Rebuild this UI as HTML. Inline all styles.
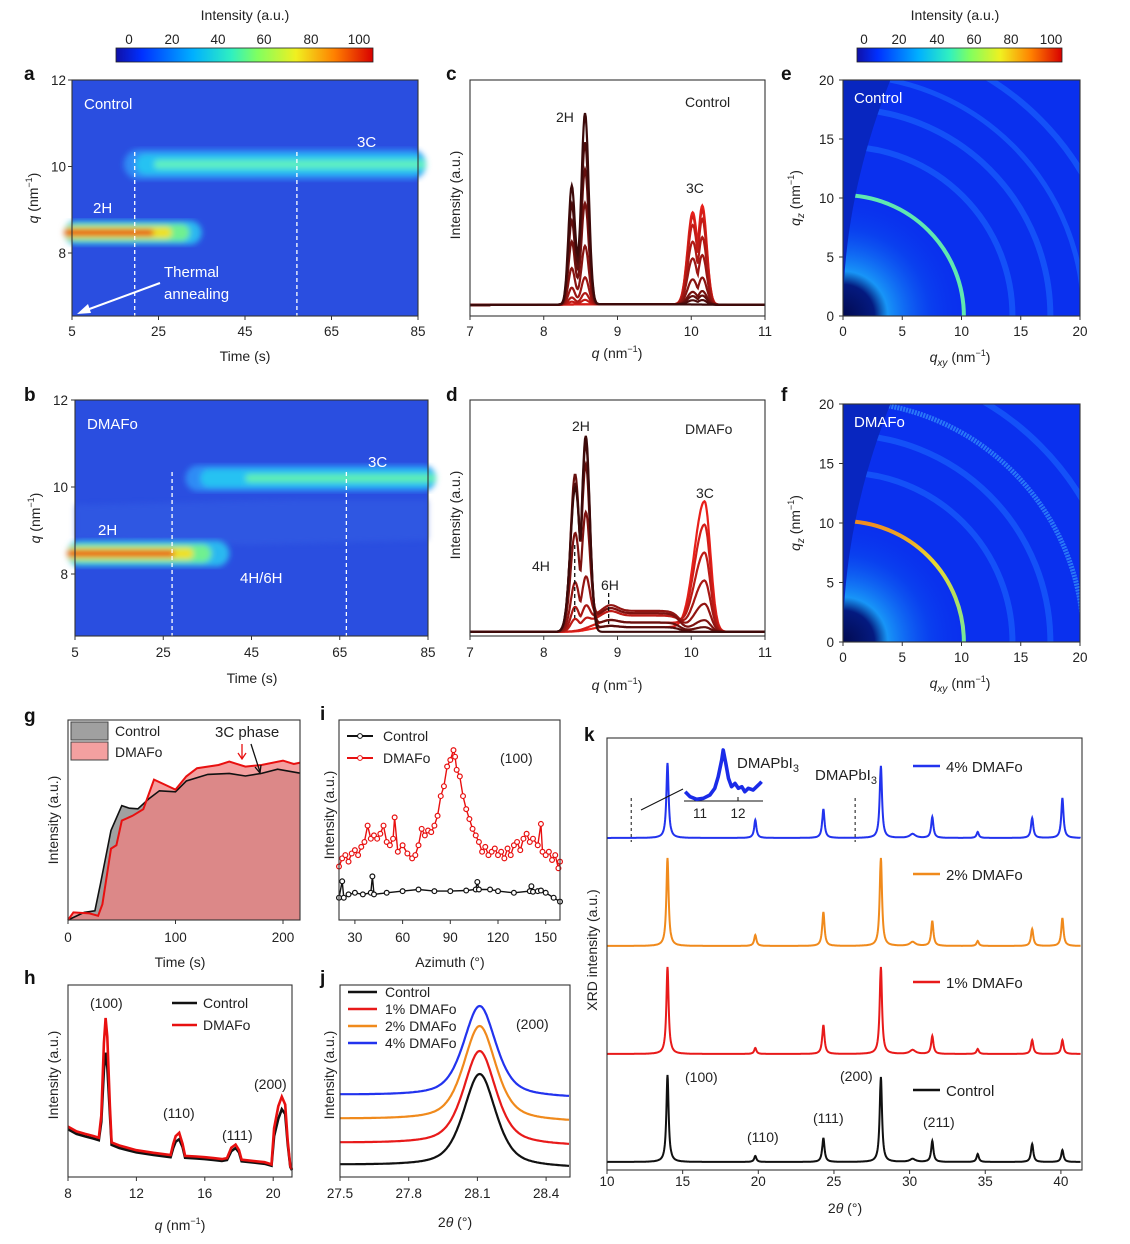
<!DOCTYPE html>
<html><head><meta charset="utf-8"><style>
html,body{margin:0;padding:0;background:#fff;}
svg{display:block;font-family:"Liberation Sans",sans-serif;}
.t{font-size:14px;fill:#222;}
.tk{font-size:13.5px;fill:#222;}
.L{font-size:19px;font-weight:bold;fill:#111;}
</style></head><body>
<svg id="fig" width="1130" height="1244" viewBox="0 0 1130 1244" xmlns="http://www.w3.org/2000/svg">
<defs>
<linearGradient id="jet" x1="0" x2="1" y1="0" y2="0">
<stop offset="0" stop-color="#1010a8"/><stop offset="0.1" stop-color="#0030ff"/><stop offset="0.3" stop-color="#00b0ff"/><stop offset="0.45" stop-color="#30f0c0"/><stop offset="0.55" stop-color="#80ff60"/><stop offset="0.7" stop-color="#f0f020"/><stop offset="0.85" stop-color="#ff8000"/><stop offset="1" stop-color="#d80000"/>
</linearGradient>
<filter id="blur3"><feGaussianBlur stdDeviation="3"/></filter>
<filter id="blur2"><feGaussianBlur stdDeviation="1.6"/></filter>
<radialGradient id="glowE" cx="0.5" cy="0.5" r="0.5"><stop offset="0" stop-color="#18c8f8"/><stop offset="0.35" stop-color="#1898f8"/><stop offset="0.7" stop-color="#0a50f0" stop-opacity="0.5"/><stop offset="1" stop-color="#0a2ff0" stop-opacity="0"/></radialGradient>
<radialGradient id="darkC" cx="0.5" cy="0.5" r="0.5"><stop offset="0" stop-color="#020a50"/><stop offset="0.7" stop-color="#041a80"/><stop offset="1" stop-color="#041a80" stop-opacity="0"/></radialGradient>
<linearGradient id="ringF" x1="0" x2="0" y1="0" y2="1"><stop offset="0" stop-color="#f08a20"/><stop offset="0.35" stop-color="#e8d830"/><stop offset="1" stop-color="#70e8a0"/></linearGradient>
<clipPath id="clipE"><rect x="843" y="80" width="237" height="236"/></clipPath>
<clipPath id="clipF"><rect x="843" y="404" width="237" height="238"/></clipPath>
</defs>

<text class="t" x="245" y="20" text-anchor="middle">Intensity (a.u.)</text>
<rect x="116" y="48" width="257" height="14" fill="url(#jet)" stroke="#222" stroke-width="0.8"/>
<g class="tk" text-anchor="middle">
<text x="129" y="44">0</text><text x="172" y="44">20</text><text x="218" y="44">40</text><text x="264" y="44">60</text><text x="311" y="44">80</text><text x="359" y="44">100</text></g>
<text class="t" x="955" y="20" text-anchor="middle">Intensity (a.u.)</text>
<rect x="857" y="48" width="205" height="14" fill="url(#jet)" stroke="#222" stroke-width="0.8"/>
<g class="tk" text-anchor="middle">
<text x="864" y="44">0</text><text x="899" y="44">20</text><text x="937" y="44">40</text><text x="974" y="44">60</text><text x="1011" y="44">80</text><text x="1051" y="44">100</text></g>

<g class="L">
<text x="24" y="80">a</text><text x="446" y="80">c</text><text x="781" y="80">e</text>
<text x="24" y="401">b</text><text x="446" y="401">d</text><text x="781" y="401">f</text>
<text x="24" y="722">g</text><text x="320" y="720">i</text><text x="584" y="741">k</text>
<text x="24" y="984">h</text><text x="320" y="984">j</text></g>

<g id="A"></g>
<g id="B"></g>
<g id="C"></g>
<g id="D"></g>
<g id="E"></g>
<g id="F"></g>
<g id="G"></g>
<g id="I"></g>
<g id="H"></g>
<g id="J"></g>
<g id="K"></g>
</svg>
<script>
// ---------- data ----------
const aTicksX=[5,25,45,65,85];
const aTicksY=[8,10,12];
const cTicksX=[7,8,9,10,11];
const eTicks=[0,5,10,15,20];
const c2H=[85,72,60,45,26,12,5,2,0,0];
const c3C=[0,2,4,6,12,22,30,38,42,44];
const d2H=[84,80,70,48,20,8,3,0,0];
const d4H=[10,14,24,12,8,5,3,0,0];
const dPlat=[0,2,4,8,9,8,7,4,2];
const d3C=[0,0,2,5,12,22,34,46,56];
const gTicks=[0,100,200];
const gCtrlT=[0,15,25,30,40,50,57,65,75,85,100,110,130,150,165,180,195,216];
const gCtrlV=[0,3.8,4.6,17.7,44.8,57.2,55.9,55.6,60.5,64.6,64.1,69.5,72.8,73.3,72,73.3,75.4,73.4];
const gDmT=[0,5,20,28,32,40,45,50,60,70,80,90,100,110,120,140,150,165,180,200,210,216];
const gDmV=[0,3.8,3.3,2.1,7.9,35.7,37.4,49.7,52.1,55.4,70.2,67.7,65.2,71.8,75.9,77.5,79.2,76.7,77.5,79.7,78,78.7];
const iTicks=[30,60,90,120,150];
const iRedA=[20,22,24,26,28,30,32,34,36,38,40,42,44,46,48,50,52,54,55,57,60,63,66,68,70,72,74,76,78,80,82,84,86,88,90,92,93,94,96,98,100,102,104,106,108,110,112,114,116,118,120,122,124,126,128,130,132,134,136,138,140,142,145,147,148,150,152,154,156,158,159];
const iRedV=[163,188,198,178,203,213,198,223,238,288,248,258,248,263,288,238,228,248,313,208,228,203,188,198,228,278,258,273,268,288,318,378,408,468,488,518,498,458,438,378,338,308,278,258,238,208,223,198,208,218,198,208,188,218,198,228,238,213,248,263,238,248,228,293,208,198,208,183,198,158,178];
const iBlkA=[20,22,23,26,30,35,40,41,42,50,60,70,80,90,100,106,107,108,115,120,130,140,141,142,145,147,150,155,159];
const iBlkV=[68,118,68,78,83,78,83,133,78,83,88,93,88,88,90,93,116,93,93,88,83,88,103,86,88,90,83,68,56];
const hTicks=[8,12,16,20];
const hQ=[8,8.5,9,9.5,9.8,9.95,10.1,10.2,10.3,10.45,10.55,11,12,13,14,14.15,14.3,14.5,14.7,14.85,15.5,16,16.5,17,17.3,17.55,17.8,18,18.15,19,19.5,19.9,20.05,20.3,20.5,20.7,20.85,21,21.1];
const hRed=[160,145,137,130,125,195,425,505,445,225,110,100,85,77,70,105,130,140,105,67,65,63,60,57,60,93,103,85,55,50,47,40,155,225,255,230,115,35,25];
const hBlk=[152,137,129,122,117,175,340,395,350,200,102,92,78,70,63,92,112,120,95,61,59,57,54,51,54,82,92,78,50,45,42,36,130,185,215,200,105,32,22];
const jTicks=[27.5,27.8,28.1,28.4];
const jNames=['Control','1% DMAFo','2% DMAFo','4% DMAFo'];
const jBase=[10,32,56,80];
const jHeight=[93,94,95,91];
const kTicks=[10,15,20,25,30,35,40];
const kPos=[14.0,19.8,24.3,28.1,30.2,31.5,34.5,38.1,40.1];
const kCtrl=[87,6,24,85,3,21,8,18,12];
const k1=[87,6,29,87,4,18,5,14,14];
const k2=[88,11,34,88,4,25,5,17,28];
const k4=[75,18,29,72,4,21,6,20,40];
const kOffset=[8,116,224,332];
const insetT=[10.61,10.74,10.91,11.09,11.26,11.39,11.48,11.57,11.61,11.68,11.75,11.83,11.92,12.01,12.10,12.18,12.27,12.40,12.49,12.58,12.62];
const insetV=[25,10,2,5,15,35,70,120,150,110,65,40,50,35,40,25,35,30,40,50,55];

// ---------- helpers ----------
const NS='http://www.w3.org/2000/svg';
function mk(tag,attrs,parent){const e=document.createElementNS(NS,tag);for(const k in attrs)e.setAttribute(k,attrs[k]);parent.appendChild(e);return e;}
function txt(parent,x,y,s,cls,anchor){const e=mk('text',{x:x,y:y,class:cls||'t','text-anchor':anchor||'start'},parent);e.textContent=s;return e;}
function pathD(xs,ys){return xs.map((x,i)=>(i?'L':'M')+x.toFixed(1)+','+ys[i].toFixed(1)).join('');}
function gs(x,m,s){return Math.exp(-0.5*((x-m)/s)*((x-m)/s));}
function lor(x,m,g){return 1/(1+((x-m)/g)*((x-m)/g));}
function range(a,b,st){const r=[];for(let v=a;v<=b+1e-9;v+=st)r.push(v);return r;}

function axes(g,x0,y0,x1,y1,xs,xt,ys,yt,xlabY,ylabX){
  const fr=mk('rect',{x:x0,y:y0,width:x1-x0,height:y1-y0,fill:'none',stroke:'#333','stroke-width':1.1},g);
  
  
  xt.forEach(v=>{
    const X=xs(v);
    const tl=mk('line',{x1:X,x2:X,y1:y1,y2:y1+4,stroke:'#333'},g);
    
    
    const tt=txt(g,X,xlabY,String(v),'tk','middle');
    
    
  });
  (yt||[]).forEach(v=>{
    const Y=ys(v);
    const tl=mk('line',{x1:x0-4,x2:x0,y1:Y,y2:Y,stroke:'#333'},g);
    
    
    const tt=txt(g,ylabX,Y+5,String(v),'tk','end');
    
    
  });
}
function qTitle(g,x,y,sub,rot){
  const e=mk('text',{x:x,y:y,class:'t','text-anchor':'middle'},g);
  if(rot)e.setAttribute('transform','rotate(-90 '+x+' '+y+')');
  e.innerHTML='<tspan font-style="italic">q</tspan>'+(sub?'<tspan font-style="italic" font-size="10" dy="4">'+sub+'</tspan><tspan dy="-4"> </tspan>':' ')+'(nm<tspan font-size="9" dy="-6">−1</tspan><tspan dy="6">)</tspan>';
  
  
  return e;
}
function yTitle(g,x,y,s){
  const e=txt(g,x,y,s,'t','middle');
  e.setAttribute('transform','rotate(-90 '+x+' '+y+')');
  
  
  return e;
}
function band(g,cx0,cx1,cy,layers){
  const grp=mk('g',{filter:'url(#blur3)'},g);
  
  
  layers.forEach(L=>{
    const r=mk('rect',{x:cx0+L[0],y:cy-L[2]/2,width:(cx1-cx0)-L[0]-L[1],height:L[2],rx:L[2]/2,fill:L[3]},grp);
    
    
  });
}
function wline(g,x,y0,y1){
  const l=mk('line',{x1:x,x2:x,y1:y0,y2:y1,stroke:'#fff','stroke-width':1.3,'stroke-dasharray':'4,3'},g);
  
  
}
function wtext(g,x,y,s){const e=txt(g,x,y,s,'t');e.setAttribute('fill','#fff');e.style.fill='#fff';e.style.fontSize='15px';
  
  return e;}

// ---------- panel a ----------
(function(){
  const g=document.getElementById('A');
  const xs=t=>72+(t-5)*346/80, ys=q=>80+(12-q)*43.25;
  const bg=mk('rect',{x:72,y:80,width:346,height:236,fill:'#2a4ee0'},g);
  
  
  band(g,xs(17),xs(85)+8,ys(10.05),[[0,0,30,'#2f8cf5'],[12,0,20,'#25c2f2'],[30,0,9,'#5ff0c0']]);
  band(g,xs(5)-8,xs(35),ys(8.47),[[0,0,24,'#2ab8f0'],[0,12,17,'#70f090'],[0,30,11,'#f0e020'],[0,48,6,'#e81a0c']]);
  wline(g,xs(19.5),152,316);wline(g,xs(57),152,316);
  wtext(g,84,109,'Control');wtext(g,357,147,'3C');wtext(g,93,213,'2H');
  wtext(g,164,277,'Thermal');wtext(g,164,299,'annealing');
  const ar=mk('path',{d:'M160,283 L84,311',stroke:'#fff','stroke-width':2,fill:'none'},g);
  
  
  const ah=mk('path',{d:'M77,314 L88,304 L91,313 Z',fill:'#fff'},g);
  
  
  axes(g,72,80,418,316,xs,aTicksX,ys,aTicksY,336,66);
  const xt=txt(g,245,361,'Time (s)','t','middle');
  
  
  qTitle(g,38,198,'',true);
})();

// ---------- panel b ----------
(function(){
  const g=document.getElementById('B');
  const xs=t=>75+(t-5)*353/80, ys=q=>400+(12-q)*43.5;
  const bg=mk('rect',{x:75,y:400,width:353,height:236,fill:'#2a4ee0'},g);
  
  
  const lt=mk('path',{d:'M75,505 L300,500 L428,500 L428,540 L250,545 L75,540 Z',fill:'#3560e4',opacity:0.5,filter:'url(#blur3)'},g);
  
  
  band(g,xs(30),xs(85)+8,ys(10.2),[[0,0,26,'#2f8cf5'],[15,0,18,'#25c2f2'],[60,0,8,'#60f0b0']]);
  band(g,xs(5)-8,xs(40),ys(8.47),[[0,0,26,'#2ab8f0'],[0,18,18,'#70f090'],[0,36,11,'#f0e020'],[0,55,6,'#e81a0c']]);
  wline(g,xs(27),472,636);wline(g,xs(66.5),472,636);
  wtext(g,87,429,'DMAFo');wtext(g,368,467,'3C');wtext(g,98,535,'2H');wtext(g,240,583,'4H/6H');
  axes(g,75,400,428,636,xs,aTicksX,ys,aTicksY,657,68);
  const xt=txt(g,252,683,'Time (s)','t','middle');
  
  
  qTitle(g,40,518,'',true);
})();

function curveColor(i,n){const f=i/(n-1);const r=Math.round(60+f*172),gg=Math.round(10+f*22),b=Math.round(10+f*16);return 'rgb('+r+','+gg+','+b+')';}

// ---------- panel c ----------
(function(){
  const g=document.getElementById('C');
  const xs=q=>470+(q-7)*73.75, ys=v=>305-v*2.25;
  const qs=range(7,11,0.01);
  const n=c2H.length;
  for(let i=n-1;i>=0;i--){
    const vals=qs.map(q=>c2H[i]*(0.62*gs(q,8.38,0.045)+gs(q,8.56,0.05))+c3C[i]*Math.max(0.93*gs(q,10.02,0.07),gs(q,10.15,0.06))+0.4*gs(q,9.2,0.8));
    const p=mk('path',{d:pathD(qs.map(xs),vals.map(ys)),fill:'none',stroke:curveColor(i,n),'stroke-width':2.2},g);
    
    
  }
  axes(g,470,80,765,316,xs,cTicksX,null,null,336,0);
  [[556,122,'2H'],[686,193,'3C'],[685,107,'Control']].forEach(L=>{
    const e=txt(g,L[0],L[1],L[2],'t');
    
    
  });
  qTitle(g,617,358,'',false);
  yTitle(g,460,195,'Intensity (a.u.)');
})();

// ---------- panel d ----------
(function(){
  const g=document.getElementById('D');
  const xs=q=>470+(q-7)*73.75, ys=v=>633-v*2.33;
  const qs=range(7,11,0.01);
  const n=d2H.length;
  for(let i=n-1;i>=0;i--){
    const vals=qs.map(q=>d2H[i]*Math.max(0.62*gs(q,8.43,0.07),gs(q,8.57,0.055))+d4H[i]*gs(q,8.42,0.05)+dPlat[i]*(1/(1+Math.exp(-(q-8.6)/0.08)))*(1/(1+Math.exp((q-9.85)/0.05)))*(1+0.3*gs(q,8.9,0.1))+d3C[i]*(q<10.18?gs(q,10.18,0.14):gs(q,10.18,0.08))+0.5);
    const p=mk('path',{d:pathD(qs.map(xs),vals.map(ys)),fill:'none',stroke:curveColor(i,n),'stroke-width':2.2},g);
    
    
  }
  const l1=mk('line',{x1:xs(8.42),x2:xs(8.42),y1:545,y2:618,stroke:'#111','stroke-dasharray':'4,3','stroke-width':1.3},g);
  
  
  const l2=mk('line',{x1:xs(8.88),x2:xs(8.88),y1:593,y2:624,stroke:'#111','stroke-dasharray':'4,3','stroke-width':1.3},g);
  
  
  const labs=[[572,431,'2H'],[685,434,'DMAFo'],[696,498,'3C'],[532,571,'4H'],[601,590,'6H']];
  labs.forEach(L=>{const e=txt(g,L[0],L[1],L[2],'t');
    
    });
  axes(g,470,400,765,636,xs,cTicksX,null,null,657,0);
  qTitle(g,617,690,'',false);
  yTitle(g,460,515,'Intensity (a.u.)');
})();

// ---------- panels e, f ----------
function giwaxs(id,y0,y1,label,fancy){
  const g=document.getElementById(id);
  const x0=843,x1=1080,s=(x1-x0)/20;
  const ox=x0,oy=y1;
  const xs=v=>x0+v*s, ys=v=>y1-v*(y1-y0)/20;
  const cg=mk('g',{'clip-path':'url(#clip'+id+')'},g);
  
  
  const bg=mk('rect',{x:x0,y:y0,width:237,height:y1-y0,fill:'#0a30ee'},cg);
  
  
  const GR=125;
  const gl=mk('rect',{x:ox-GR,y:oy-GR,width:2*GR,height:2*GR,fill:'url(#glowE)'},cg);
  
  
  const rings=[14.3,17.5,20.3,23.5];
  rings.forEach((r,i)=>{
    const R=r*s;
    const c=mk('path',{d:'M'+(ox+R)+','+oy+' A'+R+','+R+' 0 0 0 '+ox+','+(oy-R),fill:'none',stroke:i==2&&fancy?'#40a8ff':'#1a68ff','stroke-width':i==2?5:6,opacity:0.6,'stroke-dasharray':i==2&&fancy?'2,1':'none'},cg);
    
    
  });
  const R=10.2*s;
  const main=mk('path',{d:'M'+(ox+R)+','+oy+' A'+R+','+R+' 0 0 0 '+ox+','+(oy-R),fill:'none',stroke:fancy?'url(#ringF)':'#60e8b0','stroke-width':4},cg);
  
  
  let d='M'+x0+','+y0;
  for(let q=20;q>=0;q-=1){d+=' L'+xs(0.01*q*q).toFixed(1)+','+ys(q).toFixed(1);}
  d+=' L'+x0+','+y1+' Z';
  const w=mk('path',{d:d,fill:'#0826c0'},cg);
  
  
  const DR=45;
  const dk=mk('rect',{x:ox-DR,y:oy-DR,width:2*DR,height:2*DR,fill:'url(#darkC)'},cg);
  
  
  wtext(g,854,y0+23,label);
  axes(g,x0,y0,x1,y1,xs,eTicks,ys,eTicks,y1+20,834);
  qTitle(g,960,y1+46,'xy',false);
  qTitle(g,800,(y0+y1)/2,'z',true);
}
giwaxs('E',80,316,'Control',false);
giwaxs('F',404,642,'DMAFo',true);

// ---------- panel g ----------
(function(){
  const g=document.getElementById('G');
  const xs=t=>68+t*1.075, ys=v=>920-v*2.0;
  const cx=gCtrlT.map(xs), cy=gCtrlV.map(ys);
  const a1=mk('path',{d:pathD(cx,cy)+'L'+cx[cx.length-1]+',920 L68,920 Z',fill:'#a0a0a0'},g);
  
  
  const dx=gDmT.map(xs), dy=gDmV.map(ys);
  const a2=mk('path',{d:pathD(dx,dy)+'L'+dx[dx.length-1]+',920 L68,920 Z',fill:'#f08080',opacity:0.75},g);
  
  
  const l1=mk('path',{d:pathD(cx,cy),fill:'none',stroke:'#111','stroke-width':1.6},g);
  
  
  const l2=mk('path',{d:pathD(dx,dy),fill:'none',stroke:'#e81010','stroke-width':2},g);
  
  
  axes(g,68,720,300,920,xs,gTicks,null,null,942,0);
  const r1=mk('rect',{x:71,y:722,width:37,height:18,fill:'#a0a0a0',stroke:'#444'},g);
  
  
  const r2=mk('rect',{x:71,y:742,width:37,height:18,fill:'#f4a0a0',stroke:'#444'},g);
  
  
  const t1=txt(g,115,736,'Control','t');
  
  const t2=txt(g,115,757,'DMAFo','t');
  
  const t3=txt(g,215,737,'3C phase','t');t3.style.fontSize='15px';
  
  const ar=mk('path',{d:'M242,744 L242,758 M238,753 L242,759 L246,753',stroke:'#e81010',fill:'none','stroke-width':1.3},g);
  
  
  const ab=mk('path',{d:'M251,744 L260,772 M255,767 L260,773 L261,765',stroke:'#111',fill:'none','stroke-width':1.3},g);
  
  
  const xt=txt(g,180,967,'Time (s)','t','middle');
  
  
  yTitle(g,58,820,'Intensity (a.u.)');
})();

// ---------- panel i ----------
(function(){
  const g=document.getElementById('I');
  const xs=a=>339+(a-20)*1.59, ys=v=>920-v*200/610;
  const series=[[iBlkA,iBlkV,'#111','control'],[iRedA,iRedV,'#e81010','dmafo']];
  series.forEach(S=>{
    const X=S[0].map(xs),Y=S[1].map(ys);
    const p=mk('path',{d:pathD(X,Y),fill:'none',stroke:S[2],'stroke-width':1.4},g);
    
    
    X.forEach((x,k)=>{
      const c=mk('circle',{cx:x,cy:Y[k],r:2.4,fill:'#fff',stroke:S[2],'stroke-width':1.2},g);
      
      
    });
  });
  axes(g,339,720,560,920,xs,iTicks,null,null,942,0);
  [[736,'#111','Control'],[758,'#e81010','DMAFo']].forEach(L=>{
    const l=mk('line',{x1:347,x2:373,y1:L[0],y2:L[0],stroke:L[1],'stroke-width':2},g);
    
    
    const c=mk('circle',{cx:360,cy:L[0],r:2.4,fill:'#fff',stroke:L[1]},g);
    
    
    const t=txt(g,383,L[0]+5,L[2],'t');
    
    
  });
  const hk=txt(g,500,763,'(100)','t');
  
  
  const xt=txt(g,450,967,'Azimuth (°)','t','middle');
  
  
  yTitle(g,334,815,'Intensity (a.u.)');
})();

// ---------- panel h ----------
(function(){
  const g=document.getElementById('H');
  const xs=q=>68+(q-8)*17.1, ys=v=>1177-v*192/610;
  [[hBlk,'#111','control'],[hRed,'#e81010','dmafo']].forEach(S=>{
    const p=mk('path',{d:pathD(hQ.map(xs),S[0].map(ys)),fill:'none',stroke:S[1],'stroke-width':2.6},g);
    
    
  });
  axes(g,68,985,292,1177,xs,hTicks,null,null,1198,0);
  [[1003,'#111','Control'],[1025,'#e81010','DMAFo']].forEach(L=>{
    const l=mk('line',{x1:172,x2:197,y1:L[0],y2:L[0],stroke:L[1],'stroke-width':2.4},g);
    
    
    const t=txt(g,203,L[0]+5,L[2],'t');
    
    
  });
  [[90,1008,'(100)'],[163,1118,'(110)'],[222,1140,'(111)'],[254,1089,'(200)']].forEach(L=>{
    const t=txt(g,L[0],L[1],L[2],'t');
    
    
  });
  qTitle(g,180,1230,'',false);
  yTitle(g,58,1075,'Intensity (a.u.)');
})();

// ---------- panel j ----------
(function(){
  const g=document.getElementById('J');
  const xs=t=>340+(t-27.5)*229, ys=v=>1177-v;
  const cols=['#111','#e81a1a','#f08a1c','#2233ee'];
  const ts=range(27.5,28.5,0.005);
  for(let i=0;i<4;i++){
    const vals=ts.map(t=>jBase[i]+jHeight[i]*(0.55*lor(t,28.11,0.085)+0.45*gs(t,28.11,0.07))+(28.11-t)*3);
    const p=mk('path',{d:pathD(ts.map(xs),vals.map(ys)),fill:'none',stroke:cols[i],'stroke-width':2.2},g);
    
    
    const l=mk('line',{x1:348,x2:377,y1:992+i*17,y2:992+i*17,stroke:cols[i],'stroke-width':2.4},g);
    
    
    const t=txt(g,385,997+i*17,jNames[i],'t');
    
    
  }
  axes(g,340,985,570,1177,xs,jTicks,null,null,1198,0);
  const hk=txt(g,516,1029,'(200)','t');
  
  
  const xt=mk('text',{x:455,y:1227,class:'t','text-anchor':'middle'},g);
  xt.innerHTML='2<tspan font-style="italic">θ</tspan> (°)';
  
  
  yTitle(g,334,1075,'Intensity (a.u.)');
})();

// ---------- panel k ----------
(function(){
  const g=document.getElementById('K');
  const xs=t=>607+(t-10)*15.13, ys=v=>1170-v;
  const cols=['#111','#e81a1a','#f08a1c','#2233ee'];
  const sets=[kCtrl,k1,k2,k4];
  const names=['Control','1% DMAFo','2% DMAFo','4% DMAFo'];
  const ts=range(10,41.3,0.02);
  sets.forEach((H,i)=>{
    const vals=ts.map(t=>{let s=kOffset[i];H.forEach((h,k)=>{s+=h*lor(t,kPos[k],kPos[k]===30.2?0.22:0.09);});return s;});
    const p=mk('path',{d:pathD(ts.map(xs),vals.map(ys)),fill:'none',stroke:cols[i],'stroke-width':2},g);
    
    
    const ly=ys(kOffset[i])-72;
    const l=mk('line',{x1:913,x2:940,y1:ly,y2:ly,stroke:cols[i],'stroke-width':2.4},g);
    
    
    const t=txt(g,946,ly+6,names[i],'t');t.style.fontSize='15px';
    
    
  });
  axes(g,607,738,1082,1170,xs,kTicks,null,null,1186,0);
  [11.6,26.4].forEach(t=>{
    const l=mk('line',{x1:xs(t),x2:xs(t),y1:798,y2:842,stroke:'#111','stroke-dasharray':'3,3'},g);
    
    
  });
  const cn=mk('line',{x1:641,y1:810,x2:683,y2:789,stroke:'#111'},g);
  
  
  const xi=t=>700+(t-11)*38, yi=v=>800-v*0.333;
  const ax=mk('line',{x1:684,x2:763,y1:801,y2:801,stroke:'#111'},g);
  
  
  [11,12].forEach(t=>{
    const tl=mk('line',{x1:xi(t),x2:xi(t),y1:801,y2:797,stroke:'#111'},g);
    
    
    const tt=txt(g,xi(t),818,String(t),'tk','middle');
    
    
  });
  const ip=mk('path',{d:pathD(insetT.map(xi),insetV.map(yi)),fill:'none',stroke:'#1a2be8','stroke-width':3.6,'stroke-linejoin':'round'},g);
  
  
  [[737,768],[815,780]].forEach(P=>{
    const e=mk('text',{x:P[0],y:P[1],class:'t'},g);e.style.fontSize='15px';
    e.innerHTML='DMAPbI<tspan font-size="11" dy="4">3</tspan>';
    
    
  });
  [[685,1082,'(100)'],[747,1142,'(110)'],[813,1123,'(111)'],[840,1081,'(200)'],[923,1127,'(211)']].forEach(L=>{
    const t=txt(g,L[0],L[1],L[2],'t');
    
    
  });
  const xt=mk('text',{x:845,y:1213,class:'t','text-anchor':'middle'},g);
  xt.innerHTML='2<tspan font-style="italic">θ</tspan> (°)';
  
  
  yTitle(g,597,950,'XRD intensity (a.u.)');
})();
</script>
</body></html>
